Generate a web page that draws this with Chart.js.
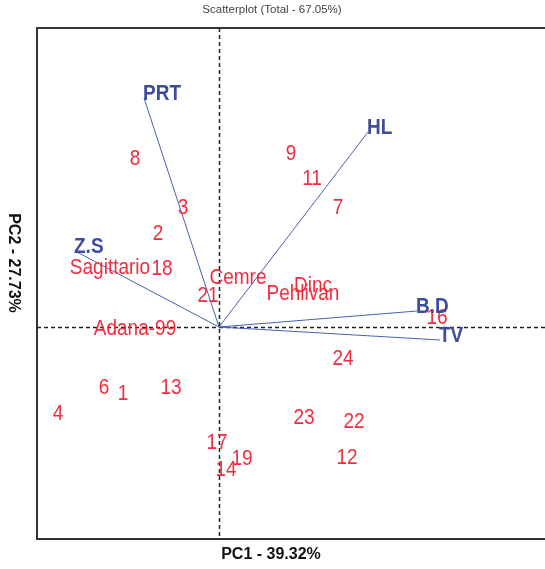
<!DOCTYPE html>
<html>
<head>
<meta charset="utf-8">
<script src="https://cdn.jsdelivr.net/npm/chart.js@4"></script>
<style>
  body { margin: 0; background: #fff; }
  canvas { display: block; }
</style>
</head>
<body>
<canvas id="biplot" width="545" height="569"></canvas>
<script>
// sample scores (PC1, PC2)
const sampleLabels = ['1', '2', '3', '4', '6', '7', '8', '9', '11', '12', '13', '14', '16', '17', '18', '19', '21', '22', '23', '24',
  'Adana-99', 'Cemre', 'Dinc', 'Pehlivan', 'Sagittario'];
const sampleX = [-0.96, -0.61, -0.36, -1.61, -1.15, 1.19, -0.84, 0.72, 0.93, 1.28, -0.48, 0.07, 2.18, -0.02, -0.57, 0.23, -0.11, 1.35, 0.85, 1.24,
  -0.84, 0.19, 0.94, 0.84, -1.09];
const sampleY = [-0.67, 0.93, 1.19, -0.87, -0.61, 1.19, 1.68, 1.73, 1.48, -1.31, -0.61, -1.43, 0.09, -1.16, 0.58, -1.32, 0.31, -0.95, -0.91, -0.32,
  -0.02, 0.49, 0.41, 0.33, 0.59];

// trait vectors
const traitLabels = ['PRT', 'HL', 'Z.S', 'B.D', 'TV'];
const traitX = [-0.75, 1.49, -1.44, 1.98, 2.21];
const traitY = [2.29, 1.95, 0.76, 0.16, -0.13];

const chartTitle = 'Scatterplot (Total - 67.05%)';
const xTitle = 'PC1 - 39.32%';
const yTitle = 'PC2 - 27.73%';

const red = 'rgb(242, 44, 62)';
const blue = 'rgb(72, 96, 178)';
const navy = 'rgb(62, 76, 156)';

const datasets = [{
  label: 'samples',
  data: sampleX.map((x, i) => ({ x: x, y: sampleY[i] })),
  pointRadius: 0,
  showLine: false
}];
traitLabels.forEach((name, i) => {
  datasets.push({
    label: name,
    data: [{ x: 0, y: 0 }, { x: traitX[i], y: traitY[i] }],
    showLine: true,
    borderColor: blue,
    borderWidth: 1,
    pointRadius: 0
  });
});

// text looks a bit taller than normal in the original, stretch it
function tallText(ctx, txt, x, y) {
  ctx.save();
  ctx.translate(x, y);
  ctx.scale(1, 1.15);
  ctx.fillText(txt, 0, 0);
  ctx.restore();
}

const biplotDecor = {
  id: 'biplotDecor',
  beforeDatasetsDraw(chart) {
    const { ctx, chartArea: a, scales } = chart;
    const x0 = scales.x.getPixelForValue(0);
    const y0 = scales.y.getPixelForValue(0);
    ctx.save();
    ctx.strokeStyle = '#222';
    ctx.lineWidth = 1.5;
    ctx.setLineDash([4, 3]);
    ctx.beginPath();
    ctx.moveTo(Math.round(x0) + 0.5, a.top);
    ctx.lineTo(Math.round(x0) + 0.5, a.bottom);
    ctx.moveTo(a.left, Math.round(y0) + 0.5);
    ctx.lineTo(a.right, Math.round(y0) + 0.5);
    ctx.stroke();
    ctx.restore();
  },
  afterDatasetsDraw(chart) {
    const { ctx, chartArea: a } = chart;
    ctx.save();
    // sample names
    ctx.fillStyle = red;
    ctx.font = '19px "Liberation Sans", Arial, sans-serif';
    ctx.textAlign = 'center';
    ctx.textBaseline = 'middle';
    chart.getDatasetMeta(0).data.forEach((pt, i) => {
      tallText(ctx, sampleLabels[i], pt.x, pt.y);
    });
    // trait names at vector tips
    ctx.fillStyle = navy;
    ctx.font = 'bold 19px "Liberation Sans", Arial, sans-serif';
    ctx.textAlign = 'left';
    traitLabels.forEach((name, i) => {
      const tip = chart.getDatasetMeta(i + 1).data[1];
      tallText(ctx, name, tip.x - 1, tip.y - 4);
    });
    // frame
    ctx.strokeStyle = '#333';
    ctx.lineWidth = 2;
    ctx.setLineDash([]);
    ctx.beginPath();
    ctx.moveTo(a.right + 5, a.top);
    ctx.lineTo(a.left, a.top);
    ctx.lineTo(a.left, a.bottom);
    ctx.lineTo(a.right + 5, a.bottom);
    ctx.stroke();
    // titles
    ctx.textAlign = 'center';
    ctx.fillStyle = '#444';
    ctx.font = '11.5px "Liberation Sans", Arial, sans-serif';
    ctx.fillText(chartTitle, 272, 10);
    ctx.fillStyle = '#111';
    ctx.font = 'bold 16px "Liberation Sans", Arial, sans-serif';
    ctx.fillText(xTitle, 271, 555);
    ctx.translate(13, 263);
    ctx.rotate(Math.PI / 2);
    ctx.fillText(yTitle, 0, 0);
    ctx.restore();
  }
};

new Chart(document.getElementById('biplot').getContext('2d'), {
  type: 'scatter',
  data: { datasets: datasets },
  options: {
    responsive: false,
    animation: false,
    layout: { padding: { left: 37, top: 28, right: 0, bottom: 30 } },
    scales: {
      x: { type: 'linear', display: false, min: -1.82, max: 3.26 },
      y: { type: 'linear', display: false, min: -2.12, max: 2.99 }
    },
    plugins: {
      legend: { display: false },
      tooltip: { enabled: false }
    }
  },
  plugins: [biplotDecor]
});
</script>
</body>
</html>
